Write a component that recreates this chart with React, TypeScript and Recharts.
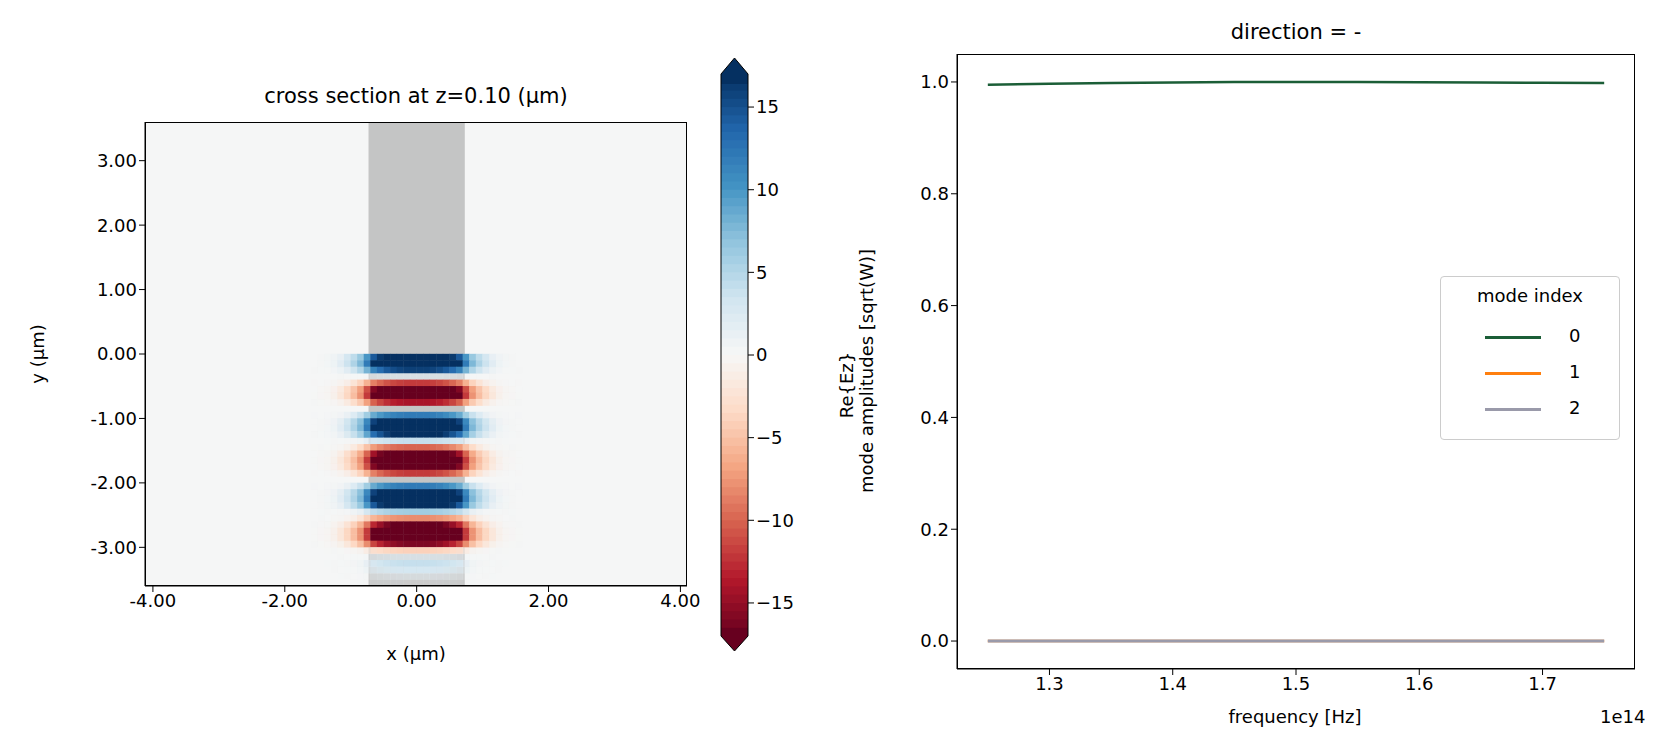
import React from 'react';
import {
  ComposedChart, Scatter, Line, XAxis, YAxis, ReferenceArea,
} from 'recharts';

// field cross section: row values along y (cell centers) and x profile
const rowY = [-0.05, -0.15, -0.25, -0.35, -0.45, -0.55, -0.65, -0.75, -0.85, -0.95, -1.05, -1.15,
  -1.25, -1.35, -1.45, -1.55, -1.65, -1.75, -1.85, -1.95, -2.05, -2.15, -2.25, -2.35,
  -2.45, -2.55, -2.65, -2.75, -2.85, -2.95, -3.05, -3.15, -3.25, -3.35, -3.45, -3.55];
const rowAmp = [20, 24, 16, 2, -12, -22, -24, -14, 0, 12, 22, 24,
  18, 4, -10, -20, -24, -22, -12, 0, 12, 22, 24, 20,
  6, -8, -18, -24, -24, -16, -4, 2, 4, 3, 1.5, 0.5];
const colX = [-1.55, -1.45, -1.35, -1.25, -1.15, -1.05, -0.95, -0.85, -0.75, -0.65, -0.55, -0.45, -0.35, -0.25, -0.15, -0.05,
  0.05, 0.15, 0.25, 0.35, 0.45, 0.55, 0.65, 0.75, 0.85, 0.95, 1.05, 1.15, 1.25, 1.35, 1.45, 1.55];
const colProfile = [0.015, 0.025, 0.04, 0.065, 0.1, 0.15, 0.22, 0.32, 0.5, 0.72, 0.82, 0.9, 0.95, 0.98, 1, 1,
  1, 1, 0.98, 0.95, 0.9, 0.82, 0.72, 0.5, 0.32, 0.22, 0.15, 0.1, 0.065, 0.04, 0.025, 0.015];

const xTicks = [-4, -2, 0, 2, 4];
const yTicks = [-3, -2, -1, 0, 1, 2, 3];
const cbTicks = [-15, -10, -5, 0, 5, 10, 15];

// mode amplitudes
const freq = [1.25, 1.3, 1.35, 1.4, 1.45, 1.5, 1.55, 1.6, 1.65, 1.7, 1.75];
const mode0 = [0.995, 0.997, 0.998, 0.999, 1.0, 1.0, 1.0, 0.9995, 0.999, 0.9985, 0.998];
const mode1 = [0, 0, 0, 0, 0, 0, 0, 0, 0, 0, 0];
const mode2 = [0, 0, 0, 0, 0, 0, 0, 0, 0, 0, 0];
const freqTicks = [1.3, 1.4, 1.5, 1.6, 1.7];
const ampTicks = [0, 0.2, 0.4, 0.6, 0.8, 1.0];

const stops = ['#67001f', '#b2182b', '#d6604d', '#f4a582', '#fddbc7', '#f7f7f7', '#d1e5f0', '#92c5de', '#4393c3', '#2166ac', '#053061'];
const VMAX = 17;

function hexToRgb(h: string) {
  return [parseInt(h.slice(1, 3), 16), parseInt(h.slice(3, 5), 16), parseInt(h.slice(5, 7), 16)];
}
function cmap(v: number) {
  const t = Math.max(0, Math.min(1, (v + VMAX) / (2 * VMAX))) * (stops.length - 1);
  const i = Math.min(stops.length - 2, Math.floor(t));
  const f = t - i;
  const a = hexToRgb(stops[i]);
  const b = hexToRgb(stops[i + 1]);
  const c = a.map((x, k) => Math.round(x + (b[k] - x) * f));
  return `rgb(${c[0]},${c[1]},${c[2]})`;
}

const cells = rowY.flatMap((y, r) => colX.map((x, c) => ({ x, y, v: rowAmp[r] * colProfile[c] })));
const cbLevels = Array.from({ length: 68 }, (_, i) => -VMAX + i * 0.5);
const lineData = freq.map((f, i) => ({ f, m0: mode0[i], m1: mode1[i], m2: mode2[i] }));

const font = 'DejaVu Sans, sans-serif';
const tickStyle = { fill: '#000', fontSize: 18, fontFamily: font };
const txt = (s: React.CSSProperties): React.CSSProperties => ({
  position: 'absolute', fontFamily: font, color: '#000', whiteSpace: 'nowrap', ...s,
});

const CellShape = (p: any) => {
  const v = p.payload.v;
  return (
    <rect x={p.cx - 3.5} y={p.cy - 3.4} width={7} height={6.9}
      fill={cmap(v)} fillOpacity={Math.min(1, Math.abs(v) / 3)} />
  );
};

export default function App() {
  return (
    <div style={{ position: 'absolute', left: 0, top: 0, width: 1653, height: 753, background: '#fff' }}>
      {/* left: field cross section */}
      <div style={{ position: 'absolute', left: 0, top: 0 }}>
        <ComposedChart width={740} height={680} margin={{ top: 122, right: 53, bottom: 64, left: 75 }} data={cells}>
          <XAxis type="number" dataKey="x" domain={[-4.12, 4.1]} ticks={xTicks} allowDataOverflow
            tickFormatter={(v: number) => v.toFixed(2)} tick={tickStyle} stroke="#000" tickSize={6} height={30} />
          <YAxis type="number" dataKey="y" domain={[-3.6, 3.6]} ticks={yTicks} allowDataOverflow
            tickFormatter={(v: number) => v.toFixed(2)} tick={tickStyle} stroke="#000" tickSize={6} width={70} />
          <ReferenceArea x1={-4.12} x2={4.1} y1={-3.6} y2={3.6} fill="#f5f6f6" fillOpacity={1} stroke="none" />
          <ReferenceArea x1={-0.73} x2={0.73} y1={-3.6} y2={3.6} fill="#c4c5c5" fillOpacity={1} stroke="none" />
          <Scatter data={cells} dataKey="y" shape={CellShape} isAnimationActive={false} />
        </ComposedChart>
      </div>
      <div style={{ position: 'absolute', left: 145, top: 122, width: 542, height: 464, border: '1px solid #000', boxSizing: 'border-box', pointerEvents: 'none' }} />
      <div style={txt({ left: 416, top: 84, fontSize: 21, transform: 'translateX(-50%)' })}>cross section at z=0.10 (µm)</div>
      <div style={txt({ left: 416, top: 643, fontSize: 18, transform: 'translateX(-50%)' })}>x (µm)</div>
      <div style={txt({ left: 37, top: 354, fontSize: 18, transform: 'translate(-50%,-50%) rotate(-90deg)' })}>y (µm)</div>

      {/* colorbar */}
      <div style={{ position: 'absolute', left: 690, top: 0 }}>
        <ComposedChart width={120} height={680} margin={{ top: 74, right: 0, bottom: 44, left: 31 }} data={lineData}>
          <XAxis type="number" dataKey="f" domain={[0, 1]} allowDataOverflow hide />
          <YAxis type="number" orientation="right" domain={[-VMAX, VMAX]} ticks={cbTicks} allowDataOverflow
            tickFormatter={(v: number) => (v < 0 ? '\u2212' + Math.abs(v) : String(v))}
            tick={tickStyle} stroke="#000" tickSize={6} width={62} axisLine={false} />
          {cbLevels.map((v) => (
            <ReferenceArea key={v} x1={0} x2={1} y1={v} y2={Math.min(VMAX, v + 0.55)} fill={cmap(v + 0.25)}
              fillOpacity={1} stroke="none" ifOverflow="hidden" />
          ))}
        </ComposedChart>
      </div>
      <svg style={{ position: 'absolute', left: 0, top: 0, pointerEvents: 'none' }} width={1653} height={753}>
        <polygon points="721,84 721,74 734.5,58 748,74 748,84" fill="#053061" />
        <polygon points="721,628 721,636 734.5,651 748,636 748,628" fill="#67001f" />
        <polygon points="721,74 734.5,58 748,74 748,636 734.5,651 721,636" fill="none" stroke="#000" strokeWidth={1} />
      </svg>

      {/* right: mode amplitudes */}
      <div style={{ position: 'absolute', left: 880, top: 0 }}>
        <ComposedChart width={780} height={720} margin={{ top: 54, right: 25, bottom: 21, left: 22 }} data={lineData}>
          <XAxis type="number" dataKey="f" domain={[1.225, 1.775]} ticks={freqTicks}
            tickFormatter={(v: number) => v.toFixed(1)} tick={tickStyle} stroke="#000" tickSize={6} height={30} />
          <YAxis type="number" domain={[-0.05, 1.05]} ticks={ampTicks}
            tickFormatter={(v: number) => v.toFixed(1)} tick={tickStyle} stroke="#000" tickSize={6} width={55} />
          <Line dataKey="m0" stroke="#1b5e37" strokeWidth={2.5} dot={false} isAnimationActive={false} />
          <Line dataKey="m1" stroke="#ff7f0e" strokeWidth={2.5} dot={false} isAnimationActive={false} />
          <Line dataKey="m2" stroke="#9a9aaa" strokeWidth={3} dot={false} isAnimationActive={false} />
        </ComposedChart>
      </div>
      <div style={{ position: 'absolute', left: 957, top: 54, width: 678, height: 615, border: '1px solid #000', boxSizing: 'border-box', pointerEvents: 'none' }} />
      <div style={txt({ left: 1296, top: 20, fontSize: 21, transform: 'translateX(-50%)' })}>direction = -</div>
      <div style={txt({ left: 1295, top: 706, fontSize: 18, transform: 'translateX(-50%)' })}>frequency [Hz]</div>
      <div style={txt({ left: 1600, top: 706, fontSize: 18 })}>1e14</div>
      <div style={txt({ left: 846, top: 385, fontSize: 18, transform: 'translate(-50%,-50%) rotate(-90deg)' })}>Re{'{'}Ez{'}'}</div>
      <div style={txt({ left: 866, top: 371, fontSize: 18, transform: 'translate(-50%,-50%) rotate(-90deg)' })}>mode amplitudes [sqrt(W)]</div>

      {/* legend */}
      <div style={{ position: 'absolute', left: 1440, top: 276, width: 180, height: 164, border: '1px solid #ccc', borderRadius: 4, background: 'rgba(255,255,255,0.8)', boxSizing: 'border-box' }}>
        <div style={txt({ left: 0, width: 178, textAlign: 'center', top: 8, fontSize: 18 })}>mode index</div>
        {[['0', '#1b5e37'], ['1', '#ff7f0e'], ['2', '#9a9aaa']].map(([n, c], i) => (
          <div key={n}>
            <div style={{ position: 'absolute', left: 44, top: 60 + i * 36 - 1.5, width: 56, height: 3, background: c }} />
            <div style={txt({ left: 128, top: 48 + i * 36, fontSize: 18 })}>{n}</div>
          </div>
        ))}
      </div>
    </div>
  );
}
